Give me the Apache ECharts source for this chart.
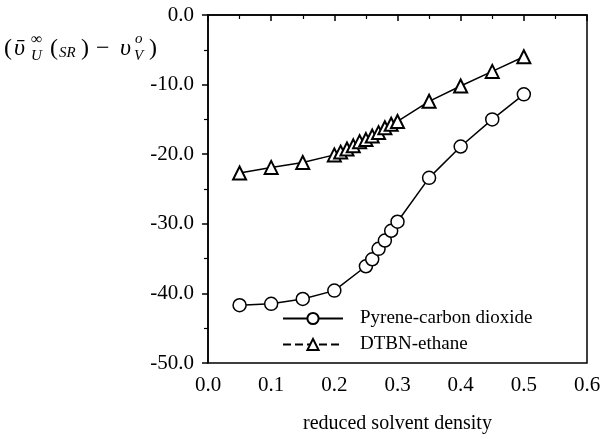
<!DOCTYPE html>
<html>
<head>
<meta charset="utf-8">
<script src="https://cdn.jsdelivr.net/npm/echarts@6/dist/echarts.min.js"></script>
<style>html,body{margin:0;padding:0;background:#fff}#c{width:604px;height:439px}</style>
</head>
<body>
<div id="c"></div>
<script>
var xPyrene = [0.05, 0.10, 0.15, 0.20, 0.25, 0.26, 0.27, 0.28, 0.29, 0.30, 0.35, 0.40, 0.45, 0.50];
var yPyrene = [-41.7, -41.5, -40.8, -39.6, -36.1, -35.1, -33.6, -32.4, -31.0, -29.7, -23.4, -18.9, -15.0, -11.4];
var xDTBN = [0.05, 0.10, 0.15, 0.20, 0.21, 0.22, 0.23, 0.24, 0.25, 0.26, 0.27, 0.28, 0.29, 0.30, 0.35, 0.40, 0.45, 0.50];
var yDTBN = [-22.7, -21.9, -21.2, -20.1, -19.7, -19.25, -18.8, -18.2, -17.9, -17.4, -16.9, -16.2, -15.7, -15.3, -12.4, -10.2, -8.1, -6.0];
var seriesNames = ['Pyrene-carbon dioxide', 'DTBN-ethane'];
var xTitle = 'reduced solvent density';

function zip(a, b) { return a.map(function (v, i) { return [v, b[i]]; }); }

var FONT = '"Liberation Serif", "DejaVu Serif", serif';
var chart = echarts.init(document.getElementById('c'), null, {renderer: 'canvas'});

function t(x, y, text, size, italic) {
  return {type: 'text', left: x, top: y, style: {text: text, font: (italic ? 'italic ' : '') + size + 'px ' + FONT, fill: '#000'}};
}

chart.setOption({
  animation: false,
  backgroundColor: '#fff',
  grid: {left: 208, right: 17, top: 15, bottom: 76, show: true, borderColor: '#000', borderWidth: 1.5, backgroundColor: 'transparent'},
  xAxis: {
    type: 'value', min: 0, max: 0.6, interval: 0.1,
    name: xTitle, nameLocation: 'middle', nameGap: 51,
    nameTextStyle: {fontFamily: FONT, fontSize: 20, color: '#000'},
    axisLine: {show: true, lineStyle: {color: '#000', width: 1.5}},
    axisTick: {show: true, inside: false, length: 6, lineStyle: {color: '#000', width: 1.5}},
    minorTick: {show: true, splitNumber: 2, length: 4, lineStyle: {color: '#000', width: 1.2}},
    splitLine: {show: false},
    axisLabel: {fontFamily: FONT, fontSize: 21, color: '#000', margin: 12, formatter: function (v) { return v.toFixed(1); }}
  },
  yAxis: {
    type: 'value', min: -50, max: 0, interval: 10,
    axisLine: {show: true, lineStyle: {color: '#000', width: 1.5}},
    axisTick: {show: true, inside: false, length: 6, lineStyle: {color: '#000', width: 1.5}},
    minorTick: {show: true, splitNumber: 2, length: 4, lineStyle: {color: '#000', width: 1.2}},
    splitLine: {show: false},
    axisLabel: {fontFamily: FONT, fontSize: 21, color: '#000', margin: 14, formatter: function (v) { return v.toFixed(1); }}
  },
  legend: {
    orient: 'vertical', left: 277, top: 304, itemWidth: 60, itemHeight: 14, itemGap: 7,
    textStyle: {fontFamily: FONT, fontSize: 19, color: '#000', padding: [0, 0, 0, 12]},
    data: [
      {name: seriesNames[0]},
      {name: seriesNames[1], lineStyle: {type: 'dashed'}}
    ]
  },
  series: [
    {
      name: seriesNames[0], type: 'line', data: zip(xPyrene, yPyrene),
      symbol: 'circle', symbolSize: 13,
      lineStyle: {color: '#000', width: 1.5},
      itemStyle: {color: '#fff', borderColor: '#000', borderWidth: 1.5}
    },
    {
      name: seriesNames[1], type: 'line', data: zip(xDTBN, yDTBN),
      symbol: 'triangle', symbolSize: 13,
      lineStyle: {color: '#000', width: 1.5},
      itemStyle: {color: '#fff', borderColor: '#000', borderWidth: 2}
    }
  ],
  graphic: [
    t(4, 37, '(', 24, false),
    t(14, 37, 'ῡ', 24, true),
    t(31, 32, '∞', 16, false),
    t(31, 49, 'U', 15, true),
    t(50, 37, '(', 24, false),
    t(59, 46, 'SR', 15, true),
    t(81, 37, ')', 24, false),
    t(96, 37, '−', 24, false),
    t(120, 37, 'υ', 24, true),
    t(135, 32, 'o', 15, true),
    t(134, 49, 'V', 15, true),
    t(149, 37, ')', 24, false)
  ]
});
</script>
</body>
</html>
